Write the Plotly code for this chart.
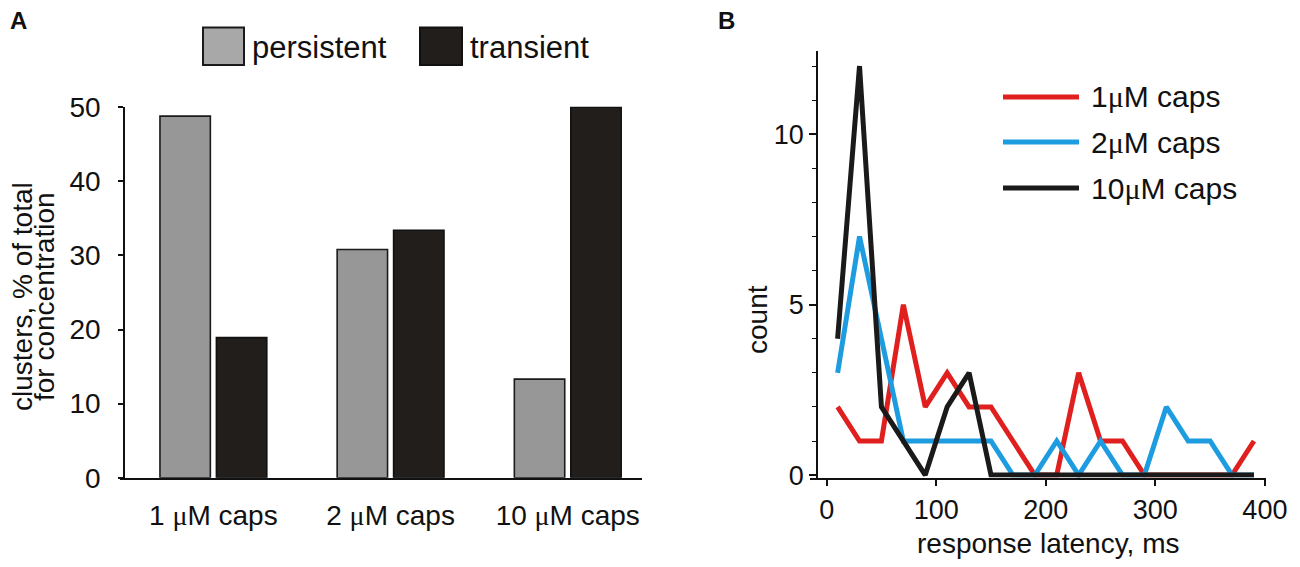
import plotly.graph_objects as go

# ---------------- data ----------------
categories = ["1 μM caps", "2 μM caps", "10 μM caps"]
persistent = [48.8, 30.8, 13.3]
transient = [18.9, 33.4, 50.0]

latency_ms = [10, 30, 50, 70, 90, 110, 130, 150, 170, 190, 210, 230, 250, 270, 290, 310, 330, 350, 370, 390]
count_1uM = [2, 1, 1, 5, 2, 3, 2, 2, 1, 0, 0, 3, 1, 1, 0, 0, 0, 0, 0, 1]
count_2uM = [3, 7, 4, 1, 1, 1, 1, 1, 0, 0, 1, 0, 1, 0, 0, 2, 1, 1, 0, 0]
count_10uM = [4, 12, 2, 1, 0, 2, 3, 0, 0, 0, 0, 0, 0, 0, 0, 0, 0, 0, 0, 0]

W, H = 1300, 567
OFF = 8  # page body margin in the browser
FONT = "Liberation Sans, Arial, sans-serif"
SERIF_MU = "<span style=\"font-family:'Liberation Serif', serif\">μ</span>"

def px(x):
    return (x - OFF) / W

def py(y):
    return 1 - (y - OFF) / H

tick_text_A = [c.replace("μ", SERIF_MU) for c in categories]

fig = go.Figure()

# ---------------- panel A: bars ----------------
fig.add_trace(go.Bar(
    x=categories, y=persistent, name="persistent",
    marker=dict(color="#979797", line=dict(color="#1a1a1a", width=1.6)),
    xaxis="x", yaxis="y", showlegend=False,
))
fig.add_trace(go.Bar(
    x=categories, y=transient, name="transient",
    marker=dict(color="#221e1c", line=dict(color="#111111", width=1.6)),
    xaxis="x", yaxis="y", showlegend=False,
))

# ---------------- panel B: lines ----------------
series_B = [
    ("1μM caps", count_1uM, "#e0201e"),
    ("2μM caps", count_2uM, "#1e9ce0"),
    ("10μM caps", count_10uM, "#1a1a1a"),
]
for name, vals, col in series_B:
    fig.add_trace(go.Scatter(
        x=latency_ms, y=vals, mode="lines", name=name,
        line=dict(color=col, width=5),
        xaxis="x2", yaxis="y2", showlegend=False,
    ))

axis_common = dict(
    showgrid=False, zeroline=False, showline=True, automargin=False,
    linecolor="#111111", linewidth=1.6,
    tickfont=dict(family=FONT, size=28, color="#111111"),
    tickcolor="#111111",
)

fig.update_layout(
    template="none",
    width=W, height=H,
    margin=dict(l=0, r=0, t=0, b=0, autoexpand=False),
    paper_bgcolor="white", plot_bgcolor="white",
    font=dict(family=FONT, color="#111111"),
    barmode="group", bargap=0.363, bargroupgap=0.107,
    xaxis=dict(
        **axis_common,
        domain=[px(120), px(642)],
        anchor="y",
        type="category",
        range=[-0.527, 2.419],
        tickmode="array", tickvals=categories, ticktext=tick_text_A,
        ticks="",
        ticklabelstandoff=12,
    ),
    yaxis=dict(
        **axis_common,
        domain=[py(477.7), py(106.5)],
        anchor="free", position=px(124),
        range=[0, 50.1],
        tickmode="array", tickvals=[0, 10, 20, 30, 40, 50],
        ticks="outside", ticklen=5, tickwidth=1.6,
        ticklabelstandoff=12,
    ),
    xaxis2=dict(
        **axis_common,
        domain=[px(810), px(1266)],
        anchor="y2",
        range=[-15.2, 401],
        tickmode="array", tickvals=[0, 100, 200, 300, 400],
        ticks="outside", ticklen=7, tickwidth=1.6,
    ),
    yaxis2=dict(
        **axis_common,
        domain=[py(477.5), py(50.7)],
        anchor="free", position=px(817),
        range=[-0.07, 12.45],
        tickmode="array", tickvals=[0, 5, 10],
        ticks="outside", ticklen=7, tickwidth=1.6,
        minor=dict(dtick=1, tick0=0, ticks="outside", ticklen=4, tickwidth=1.4, tickcolor="#111111"),
    ),
)
fig.update_layout(xaxis2_tickfont_size=27, yaxis2_tickfont_size=27)

def ann(text, x, y, size, angle=0, xanchor="center"):
    return dict(text=text, x=px(x), y=py(y), xref="paper", yref="paper",
                xanchor=xanchor, yanchor="middle", showarrow=False, textangle=angle,
                font=dict(family=FONT, size=size, color="#111111"))

annotations = [
    ann("<b>A</b>", 8, 21, 24, xanchor="left"),
    ann("<b>B</b>", 716, 21, 24, xanchor="left"),
    # panel A y title (two tightly spaced lines)
    ann("clusters, % of total", 22, 297, 28, angle=-90),
    ann("for concentration", 44, 297, 28, angle=-90),
    # panel A legend text
    ann("persistent", 250, 47, 31, xanchor="left"),
    ann("transient", 468, 47, 31, xanchor="left"),
    # panel B axis titles
    ann("response latency, ms", 1048, 543, 28),
    ann("count", 757, 320, 28, angle=-90),
]
legend_y = [97, 142, 188]
for (name, vals, col), ly in zip(series_B, legend_y):
    annotations.append(ann(name.replace("μ", SERIF_MU), 1089, ly, 30, xanchor="left"))

shapes = [
    dict(type="rect", xref="paper", yref="paper", x0=px(203), x1=px(244), y0=py(65), y1=py(27.5),
         fillcolor="#a8a8a8", line=dict(color="#1a1a1a", width=2)),
    dict(type="rect", xref="paper", yref="paper", x0=px(420), x1=px(462), y0=py(65), y1=py(27.5),
         fillcolor="#221e1c", line=dict(color="#111111", width=2)),
]
for (name, vals, col), ly in zip(series_B, legend_y):
    shapes.append(dict(type="line", xref="paper", yref="paper", x0=px(1003), x1=px(1079),
                       y0=py(ly), y1=py(ly), line=dict(color=col, width=5)))

fig.update_layout(annotations=annotations, shapes=shapes)

fig.write_html("out.html")
